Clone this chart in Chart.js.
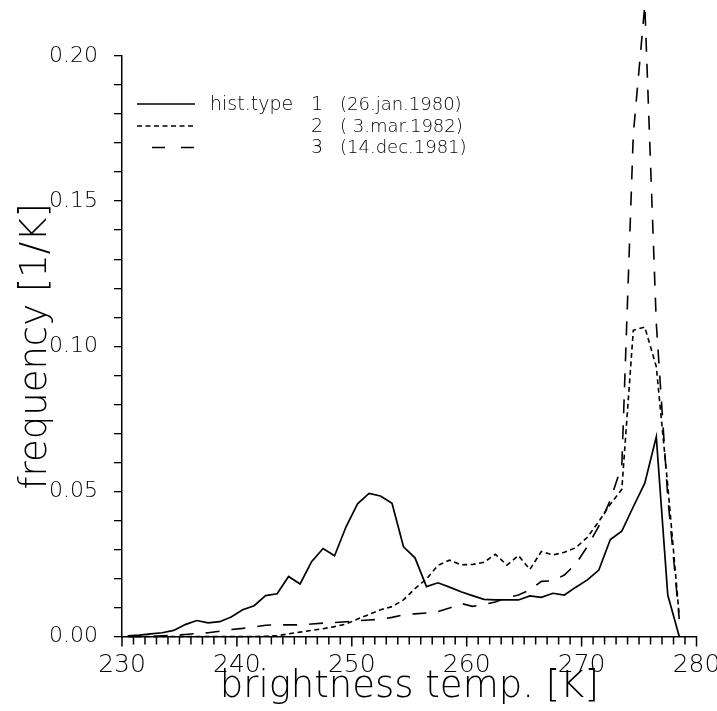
<!DOCTYPE html>
<html>
<head>
<meta charset="utf-8">
<script src="https://cdn.jsdelivr.net/npm/chart.js@4.4.1/dist/chart.umd.min.js"></script>
<style>
  html, body { margin: 0; padding: 0; background: #fff; }
  #wrap { width: 717px; height: 711px; }
</style>
</head>
<body>
<div id="wrap"><canvas id="c" width="717" height="711"></canvas></div>
<script>
// ---- data ----
const temps = [230.5,231.5,232.5,233.5,234.5,235.5,236.5,237.5,238.5,239.5,
               240.5,241.5,242.5,243.5,244.5,245.5,246.5,247.5,248.5,249.5,
               250.5,251.5,252.5,253.5,254.5,255.5,256.5,257.5,258.5,259.5,
               260.5,261.5,262.5,263.5,264.5,265.5,266.5,267.5,268.5,269.5,
               270.5,271.5,272.5,273.5,274.5,275.5,276.5,277.5,278.5];

const histType1 = [0.0002,0.0005,0.0009,0.0013,0.0021,0.0041,0.0055,0.0047,0.0051,0.0067,
                   0.0092,0.0106,0.0141,0.0147,0.0207,0.0181,0.0258,0.0303,0.0278,0.0378,
                   0.0457,0.0493,0.0484,0.0459,0.0309,0.0271,0.0172,0.0185,0.0170,0.0154,
                   0.0141,0.0128,0.0126,0.0126,0.0126,0.0140,0.0135,0.0149,0.0143,0.0170,
                   0.0195,0.0229,0.0334,0.0363,0.0447,0.0528,0.0688,0.0143,0.0000];

const histType2 = [0.0000,0.0000,0.0000,0.0000,0.0000,0.0000,0.0000,0.0000,0.0000,0.0000,
                   0.0000,0.0000,0.0001,0.0003,0.0009,0.0015,0.0021,0.0027,0.0034,0.0043,
                   0.0060,0.0076,0.0092,0.0103,0.0126,0.0165,0.0198,0.0245,0.0263,0.0247,
                   0.0248,0.0256,0.0283,0.0246,0.0279,0.0231,0.0293,0.0281,0.0290,0.0306,
                   0.0342,0.0396,0.0456,0.0507,0.1055,0.1066,0.0930,0.0520,0.0070];

const histType3 = [0.0000,0.0000,0.0000,0.0002,0.0004,0.0007,0.0010,0.0013,0.0018,0.0024,
                   0.0028,0.0033,0.0039,0.0040,0.0040,0.0040,0.0043,0.0046,0.0048,0.0051,
                   0.0054,0.0057,0.0059,0.0066,0.0075,0.0078,0.0081,0.0086,0.0098,0.0114,
                   0.0104,0.0110,0.0119,0.0134,0.0143,0.0160,0.0190,0.0192,0.0212,0.0250,
                   0.0310,0.0380,0.0470,0.0590,0.1730,0.2176,0.1080,0.0480,0.0060];

const legendPrefix = 'hist.type';
const legendNumbers = ['1', '2', '3'];
const legendDates = ['(26.jan.1980)', '( 3.mar.1982)', '(14.dec.1981)'];

const xTitle = 'brightness temp. [K]';
const yTitle = 'frequency [1/K]';
const xRange = [230, 280];
const yRange = [0, 0.20];
const xMinorStep = 1;

// ---- chart ----
const FONT = "'DejaVu Sans', sans-serif";
const WEIGHT = 200;
const toPts = (vals) => temps.map((t, i) => ({ x: t, y: vals[i] }));

const legendPlugin = {
  id: 'histLegend',
  afterDraw(chart) {
    const ctx = chart.ctx;
    ctx.save();
    ctx.strokeStyle = '#000';
    ctx.lineWidth = 1.6;
    const rows = [104, 126, 147.5];
    ctx.setLineDash([]);
    ctx.beginPath(); ctx.moveTo(137, rows[0]); ctx.lineTo(195, rows[0]); ctx.stroke();
    ctx.setLineDash([5, 3.5]);
    ctx.beginPath(); ctx.moveTo(137, rows[1]); ctx.lineTo(195, rows[1]); ctx.stroke();
    ctx.setLineDash([13, 16]);
    ctx.beginPath(); ctx.moveTo(152, rows[2]); ctx.lineTo(195, rows[2]); ctx.stroke();
    ctx.setLineDash([]);

    ctx.fillStyle = '#000';
    ctx.textBaseline = 'middle';
    ctx.font = WEIGHT + " 19px " + FONT;
    ctx.textAlign = 'left';
    ctx.fillText(legendPrefix, 210, rows[0] + 1);
    for (let i = 0; i < 3; i++) {
      ctx.font = WEIGHT + " 19px " + FONT;
      ctx.textAlign = 'right';
      ctx.fillText(legendNumbers[i], 323, rows[i] + 1);
      ctx.font = WEIGHT + " 18px " + FONT;
      ctx.textAlign = 'left';
      ctx.fillText(legendDates[i], 340, rows[i] + 1);
    }
    ctx.restore();
  }
};

// all ticks along the x axis, placed through the x scale
const xTickPlugin = {
  id: 'xMinorTicks',
  afterDraw(chart) {
    const s = chart.scales.x;
    const area = chart.chartArea;
    const ctx = chart.ctx;
    ctx.save();
    ctx.setLineDash([]);
    ctx.strokeStyle = '#000';
    ctx.lineWidth = 1.5;
    for (let t = xRange[0]; t <= xRange[1] + 1e-9; t += xMinorStep) {
      const px = s.getPixelForValue(t);
      const major = Math.abs(t / 10 - Math.round(t / 10)) < 1e-6;
      ctx.beginPath();
      ctx.moveTo(px, area.bottom);
      ctx.lineTo(px, area.bottom + (major ? 10 : 8));
      ctx.stroke();
    }
    ctx.restore();
  }
};

const isMultiple = (v, step) => Math.abs(v / step - Math.round(v / step)) < 1e-6;

new Chart(document.getElementById('c'), {
  type: 'line',
  data: {
    datasets: [
      { label: 'hist.type 1 (26.jan.1980)', data: toPts(histType1),
        borderColor: '#000', borderWidth: 1.7, borderDash: [], pointRadius: 0, tension: 0, clip: false },
      { label: '2 ( 3.mar.1982)', data: toPts(histType2),
        borderColor: '#000', borderWidth: 1.6, borderDash: [5, 3.5], pointRadius: 0, tension: 0, clip: false },
      { label: '3 (14.dec.1981)', data: toPts(histType3),
        borderColor: '#000', borderWidth: 1.6, borderDash: [14, 12], pointRadius: 0, tension: 0, clip: false }
    ]
  },
  options: {
    responsive: false,
    animation: false,
    events: [],
    layout: { padding: { top: 56, right: 20.5, left: 0, bottom: 0 } },
    plugins: { legend: { display: false }, tooltip: { enabled: false } },
    scales: {
      x: {
        type: 'linear',
        min: xRange[0], max: xRange[1],
        afterFit(s) { s.height = 74.5; s.paddingLeft = 0; s.paddingRight = 0; },
        border: { display: true, color: '#000', width: 1.5 },
        grid: { display: true, drawOnChartArea: false, drawTicks: true, tickLength: 8,
                color: 'rgba(0,0,0,0)', lineWidth: 1 },
        ticks: {
          stepSize: 10, autoSkip: false, maxRotation: 0, padding: 6,
          color: '#000', font: { family: FONT, size: 25, weight: WEIGHT },
          callback: (v) => isMultiple(v, 10) ? String(Math.round(v)) : ''
        },
        title: { display: true, text: xTitle, color: '#000',
                 font: { family: FONT, size: 37, weight: WEIGHT }, padding: { top: 0, bottom: 1 } }
      },
      y: {
        type: 'linear',
        min: yRange[0], max: yRange[1],
        afterFit(s) { s.width = 122; s.paddingTop = 0; s.paddingBottom = 0; },
        border: { display: true, color: '#000', width: 1.5 },
        grid: { display: true, drawOnChartArea: false, drawTicks: true, tickLength: 8,
                color: '#000', lineWidth: 1.3 },
        ticks: {
          count: 21, maxTicksLimit: 100, autoSkip: false, padding: 16,
          color: '#000', font: { family: FONT, size: 22, weight: WEIGHT },
          callback: (v) => isMultiple(v, 0.05) ? v.toFixed(2) : ''
        },
        title: { display: true, text: yTitle, color: '#000',
                 font: { family: FONT, size: 37, weight: WEIGHT }, padding: { top: 14, bottom: 0 } }
      }
    }
  },
  plugins: [legendPlugin, xTickPlugin]
});
</script>
</body>
</html>
